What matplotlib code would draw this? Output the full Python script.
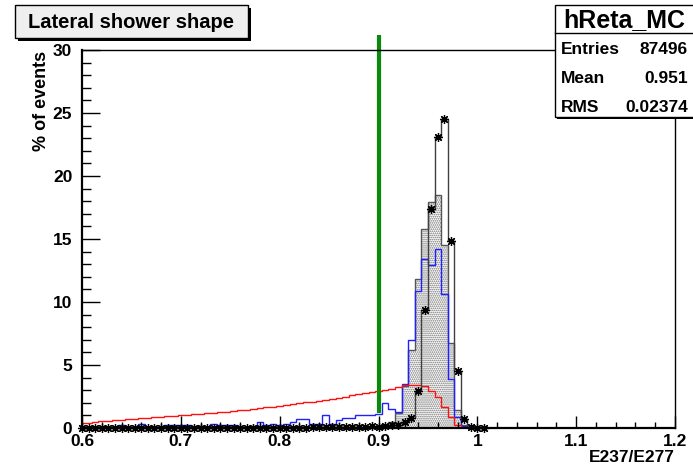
import numpy as np
import matplotlib
matplotlib.use("Agg")
import matplotlib.pyplot as plt
from matplotlib.patches import Rectangle

plt.rcParams['font.family'] = ['Liberation Sans', 'DejaVu Sans']
plt.rcParams['font.weight'] = 'bold'
plt.rcParams['hatch.linewidth'] = 0.8

# bins: width 1/150, centred on 0.6 + k/150
NBINS = 90
edges = 0.6 - 1 / 300 + np.arange(NBINS + 1) / 150

# black histogram with star markers (k = 0..61)
stars_mc = [0.02, 0.02, 0.02, 0.02, 0.02, 0.02, 0.02, 0.02, 0.02, 0.02,
            0.02, 0.02, 0.02, 0.02, 0.02, 0.02, 0.02, 0.02, 0.02, 0.02,
            0.02, 0.02, 0.02, 0.02, 0.02, 0.02, 0.02, 0.02, 0.02, 0.03,
            0.03, 0.03, 0.03, 0.03, 0.03, 0.04, 0.04, 0.04, 0.05, 0.05,
            0.1, 0.05, 0.1, 0.1, 0.15, 0.1, 0.15, 0.2, 0.25, 0.5,
            0.77, 2.95, 9.35, 17.4, 23.1, 24.5, 14.85, 4.5, 0.75, 0.1,
            0.03, 0.02]
# dotted (hatched) histogram
hatched = [0.03] * 45 + [0.1, 0.2, 0.45, 1.2, 3.35, 6.2, 11.8, 15.8, 17.9,
                          18.5, 14.5, 6.75, 1.43, 0.2, 0.05]
# blue histogram
blue = [0.1, 0.05, 0.1, 0.05, 0.05, 0.1, 0.25, 0.1, 0.1, 0.35,
        0.1, 0.1, 0.1, 0.25, 0.25, 0.2, 0.25, 0.1, 0.15, 0.1,
        0.3, 0.2, 0.25, 0.2, 0.1, 0.1, 0.15, 0.45, 0.2, 0.35,
        0.2, 0.3, 0.45, 0.7, 0.7, 0.3, 0.3, 1.05, 0.3, 0.6,
        0.8, 0.8, 1.0, 1.0, 1.05, 1.1, 2.0, 1.5, 1.3, 3.5,
        7.0, 10.9, 13.4, 12.9, 14.2, 10.6, 3.9, 0.9, 0.15, 0.05]
# red histogram
red = [0.40, 0.43, 0.47, 0.52, 0.57, 0.62, 0.66, 0.70, 0.74, 0.78,
       0.82, 0.86, 0.89, 0.93, 0.96, 1.00, 1.04, 1.08, 1.12, 1.16,
       1.20, 1.25, 1.30, 1.35, 1.40, 1.46, 1.51, 1.57, 1.63, 1.69,
       1.75, 1.82, 1.89, 1.96, 2.03, 2.10, 2.18, 2.26, 2.34, 2.42,
       2.50, 2.58, 2.66, 2.74, 2.83, 2.92, 3.02, 3.12, 3.25, 3.45,
       3.45, 3.40, 3.30, 2.90, 2.45, 1.65, 0.85, 0.24]

cut_x = 0.9
cut_y = (1.2, 31.2)

stats_name = "hReta_MC"
stats_rows = [("Entries", "87496"), ("Mean", "0.951"), ("RMS", "0.02374")]


def pad(v):
    return np.array(list(v) + [0.0] * (NBINS - len(v)))


W, H = 693, 471
fig = plt.figure(figsize=(W / 100, H / 100), dpi=100)
ax = fig.add_axes([82 / W, 1 - 428 / H, (675 - 82) / W, (428 - 50) / H])


def fpx(x, y):
    return x / W, 1 - y / H


ax.stairs(pad(hatched), edges, fill=True, facecolor="white",
          edgecolor="#707070", hatch="........", lw=0)
ax.stairs(pad(hatched), edges, color="#555555", lw=1.0)
ax.stairs(pad(blue), edges, color="#1f1fff", lw=1.0)
ax.stairs(pad(red), edges, color="#ff1010", lw=1.0)
ax.stairs(pad(stars_mc), edges, color="#404040", lw=1.0)
centers = 0.5 * (edges[:-1] + edges[1:])
n = len(stars_mc)
ax.plot(centers[:n], stars_mc, ls="none", marker=(8, 2, 0), ms=6.5,
        mew=0.9, color="black", clip_on=False)
ax.plot([cut_x, cut_x], cut_y, color="#0a8a0a", lw=3.0, clip_on=False,
        solid_capstyle="butt")

ax.set_xlim(0.6, 1.2)
ax.set_ylim(0, 30)
ax.set_xticks(np.arange(0.6, 1.21, 0.1))
ax.set_xticklabels(["0.6", "0.7", "0.8", "0.9", "1", "1.1", "1.2"])
ax.set_xticks(np.arange(0.6, 1.2, 0.02), minor=True)
ax.set_yticks(np.arange(0, 31, 5))
ax.set_yticks(np.arange(0, 31, 1), minor=True)
ax.tick_params(axis="both", which="both", direction="in", top=False,
               right=False, width=1.0, labelsize=12.5)
ax.tick_params(axis="y", which="major", length=13, pad=7)
ax.tick_params(axis="y", which="minor", length=6.5)
ax.tick_params(axis="x", which="major", length=8.5, pad=4)
ax.tick_params(axis="x", which="minor", length=4.3)
for s in ax.spines.values():
    s.set_linewidth(1.0)
ax.spines["left"].set_linewidth(1.6)
ax.spines["bottom"].set_linewidth(1.6)

fig.text(*fpx(42, 51), "% of events", rotation=90, ha="center", va="top",
         fontsize=13, fontweight="bold")
fig.text(*fpx(675, 458), "E237/E277", ha="right", va="center",
         fontsize=12.5, fontweight="bold")

# title box with shadow
tb = (15, 5, 233, 33)
fig.add_artist(Rectangle(fpx(tb[0] + 3, tb[1] + tb[3] + 3), tb[2] / W, tb[3] / H,
                         transform=fig.transFigure, facecolor="black",
                         edgecolor="none"))
fig.add_artist(Rectangle(fpx(tb[0], tb[1] + tb[3]), tb[2] / W, tb[3] / H,
                         transform=fig.transFigure, facecolor="#efefef",
                         edgecolor="black", lw=1.0))
fig.text(*fpx(tb[0] + tb[2] / 2, tb[1] + tb[3] / 2 + 1), "Lateral shower shape",
         ha="center", va="center", fontsize=14.5, fontweight="bold")

# stats box
sb = (555, 5, 140, 112)
fig.add_artist(Rectangle(fpx(sb[0] + 2, sb[1] + sb[3] + 2), sb[2] / W, sb[3] / H,
                         transform=fig.transFigure, facecolor="black",
                         edgecolor="none"))
fig.add_artist(Rectangle(fpx(sb[0], sb[1] + sb[3]), sb[2] / W, sb[3] / H,
                         transform=fig.transFigure, facecolor="white",
                         edgecolor="black", lw=1.0))
fig.add_artist(plt.Line2D([555 / W, 1], [1 - 33 / H, 1 - 33 / H],
                          transform=fig.transFigure, color="black", lw=1.0))
fig.text(*fpx(624, 20), stats_name, ha="center", va="center", fontsize=18,
         fontweight="bold")
for i, (lab, val) in enumerate(stats_rows):
    y = 50 + i * 28.5
    fig.text(*fpx(561, y), lab, ha="left", va="center", fontsize=12.5,
             fontweight="bold")
    fig.text(*fpx(688, y), val, ha="right", va="center", fontsize=12.5,
             fontweight="bold")

fig.savefig("out.png", dpi=100, facecolor="white")
